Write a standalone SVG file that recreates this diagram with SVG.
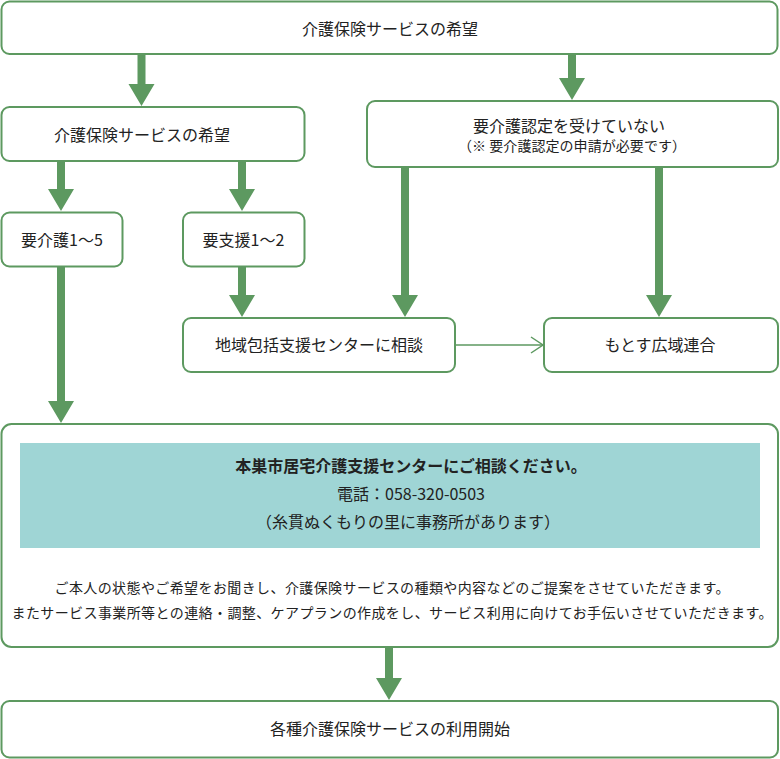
<svg xmlns="http://www.w3.org/2000/svg" width="780" height="759" viewBox="0 0 780 759">
<style>
.box{fill:#fff;stroke:#5d9960;stroke-width:2}
.t{font-family:"Noto Sans CJK JP","Noto Sans",sans-serif;fill:#222;text-anchor:middle}
.l{font-size:16px}
.s{font-size:14px}
.b{font-size:14px}
.arr{fill:#5d9960}
</style>
<rect width="780" height="759" fill="#fff"/>
<g id="connectors">
<path class="arr" d="M137.5,55 H145.5 V84 H154.5 L141.5,106 L128.5,84 H137.5 Z"/>
<path class="arr" d="M568,55 H576 V78 H585 L572,100 L559,78 H568 Z"/>
<path class="arr" d="M57,161 H65 V189 H74 L61,211 L48,189 H57 Z"/>
<path class="arr" d="M238,161 H246 V189 H255 L242,211 L229,189 H238 Z"/>
<path class="arr" d="M57,267 H65 V401 H74 L61,423 L48,401 H57 Z"/>
<path class="arr" d="M238,267 H246 V295 H255 L242,317 L229,295 H238 Z"/>
<path class="arr" d="M401,167 H409 V295 H418 L405,317 L392,295 H401 Z"/>
<path class="arr" d="M655,167 H663 V295 H672 L659,317 L646,295 H655 Z"/>
<path class="arr" d="M385,648 H393 V678 H402 L389,700 L376,678 H385 Z"/>
<line x1="455" y1="345" x2="543" y2="345" stroke="#5d9960" stroke-width="1.5"/>
<polyline points="531,337 543,345 531,353" fill="none" stroke="#5d9960" stroke-width="1.5"/>
</g>
<g id="n1">
<rect class="box" x="1.5" y="1.5" width="776" height="52.5" rx="8"/>
<text class="t l" x="390" y="34.5">介護保険サービスの希望</text>
</g>
<g id="n2">
<rect class="box" x="1.5" y="107" width="303" height="54" rx="8"/>
<text class="t l" x="142" y="140.5">介護保険サービスの希望</text>
</g>
<g id="n3">
<rect class="box" x="367" y="101" width="411" height="66" rx="8"/>
<text class="t l" x="569" y="131.5">要介護認定を受けていない</text>
<text class="t s" x="572" y="150.5" textLength="228" lengthAdjust="spacing">（※ 要介護認定の申請が必要です）</text>
</g>
<g id="n4">
<rect class="box" x="1.5" y="212.5" width="121" height="54" rx="8"/>
<text class="t l" x="62" y="245.5">要介護1〜5</text>
</g>
<g id="n5">
<rect class="box" x="183" y="212.5" width="121.5" height="54" rx="8"/>
<text class="t l" x="243.5" y="245.5">要支援1〜2</text>
</g>
<g id="n6">
<rect class="box" x="183" y="318" width="272" height="54" rx="8"/>
<text class="t l" x="319" y="351">地域包括支援センターに相談</text>
</g>
<g id="n7">
<rect class="box" x="544" y="318" width="234" height="54" rx="8"/>
<text class="t l" x="660" y="351">もとす広域連合</text>
</g>
<g id="n8">
<rect class="box" x="1.5" y="424" width="776.5" height="223" rx="10"/>
<rect x="20" y="443" width="740" height="105" fill="#9fd5d5"/>
<text class="t l" x="411" y="471.5" font-weight="bold">本巣市居宅介護支援センターにご相談ください。</text>
<text class="t l" x="411" y="499.5">電話：058-320-0503</text>
<text class="t l" x="408" y="527.5">（糸貫ぬくもりの里に事務所があります）</text>
<text class="t b" x="392" y="593" textLength="675" lengthAdjust="spacing">ご本人の状態やご希望をお聞きし、介護保険サービスの種類や内容などのご提案をさせていただきます。</text>
<text class="t b" x="392" y="618" textLength="761" lengthAdjust="spacing">またサービス事業所等との連絡・調整、ケアプランの作成をし、サービス利用に向けてお手伝いさせていただきます。</text>
</g>
<g id="n9">
<rect class="box" x="1.5" y="701" width="776.5" height="56.5" rx="8"/>
<text class="t l" x="390" y="735">各種介護保険サービスの利用開始</text>
</g>
</svg>
